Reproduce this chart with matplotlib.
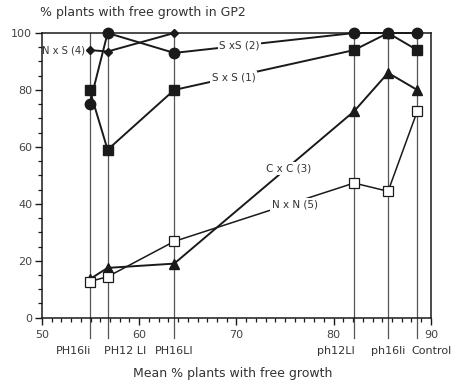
import matplotlib
matplotlib.use("Agg")
import matplotlib.pyplot as plt
from matplotlib.transforms import blended_transform_factory

# positions (mean % plants with free growth) of each genotype group
groups = ["PH16li", "PH12 LI", "PH16LI", "ph12LI", "ph16li", "Control"]
xpos = [54.9, 56.75, 63.6, 82.1, 85.6, 88.6]

sxs1 = [80, 59, 80, 94, 100, 94]          # S x S (1) filled squares
sxs2 = [75, 100, 93, 100, 100, 100]       # S xS (2) filled circles
nxs4_x = [54.9, 56.75, 63.6]
nxs4 = [94, 93.5, 100]                    # N x S (4) diamonds
cxc3 = [13.5, 17.5, 19, 72.5, 86, 80]     # C x C (3) filled triangles
nxn5 = [12.7, 14.4, 26.8, 47.3, 44.4, 72.5]  # N x N (5) open squares

plt.rcParams['font.family'] = ['DejaVu Sans']
fig = plt.figure(figsize=(4.54, 3.82), dpi=100)
ax = fig.add_axes([0.0925, 0.1683, 0.8565, 0.7453])
ax.set_xlim(50, 90)
ax.set_ylim(0, 100)

dark = "#1a1a1a"
# vertical group lines
for x in xpos:
    ax.plot([x, x], [100, -7.2], color="#555555", lw=0.9, clip_on=False, zorder=1)

ax.plot(xpos, sxs1, color=dark, lw=1.4, marker="s", ms=7.5, mfc=dark, mec=dark, zorder=3)
ax.plot(xpos, sxs2, color=dark, lw=1.4, marker="o", ms=7.5, mfc=dark, mec=dark, zorder=3, clip_on=False)
ax.plot(nxs4_x, nxs4, color=dark, lw=1.4, marker="D", ms=4.5, mfc=dark, mec=dark, zorder=3, clip_on=False)
ax.plot(xpos, cxc3, color=dark, lw=1.4, marker="^", ms=7, mfc=dark, mec=dark, zorder=3)
ax.plot(xpos, nxn5, color=dark, lw=1.1, marker="s", ms=7, mfc="white", mec=dark, mew=0.9, zorder=3)

lab_kw = dict(fontsize=7.5, color="#333333", ha="center", va="center", zorder=4,
              bbox=dict(boxstyle="square,pad=0.15", fc="white", ec="none"))
ax.text(70.3, 95.5, "S xS (2)", **lab_kw)
ax.text(69.7, 84.5, "S x S (1)", **lab_kw)
ax.text(75.4, 52.5, "C x C (3)", **lab_kw)
ax.text(76.0, 39.8, "N x N (5)", **lab_kw)
ax.text(54.4, 94, "N x S (4)", fontsize=7.2, color="#333333", ha="right", va="center")

# ticks
ax.set_xticks([50, 60, 70, 80, 90])
ax.set_xticks(range(50, 91), minor=True)
ax.set_yticks([0, 20, 40, 60, 80, 100])
ax.set_yticks(range(0, 101, 5), minor=True)
ax.tick_params(axis="both", which="major", length=5, width=1, direction="out",
               labelsize=8, colors=dark, labelcolor="#444444")
ax.tick_params(axis="both", which="minor", length=3, width=0.9, direction="out", colors=dark)
ax.tick_params(axis="x", pad=4)
ax.tick_params(axis="y", pad=2)
for s in ax.spines.values():
    s.set_linewidth(1.1)
    s.set_color(dark)

# group labels (alignment relative to each group line, as in the original)
aligns = ["right", "left", "center", "right", "center", "left"]
offsets = [0.2, -0.4, 0.0, 0.1, 0.0, -0.65]
tr = blended_transform_factory(ax.transData, ax.transAxes)
for x, g, a, o in zip(xpos, groups, aligns, offsets):
    ax.text(x + o, -0.118, g, transform=tr, ha=a, va="center", fontsize=8, color="#333333")

fig.text(0.513, 0.023, "Mean % plants with free growth", ha="center", va="center",
         fontsize=9, color="#333333")
fig.text(0.088, 0.966, "% plants with free growth in GP2", ha="left", va="center",
         fontsize=9, color="#333333")

fig.savefig("out.png", dpi=100, facecolor="white")
